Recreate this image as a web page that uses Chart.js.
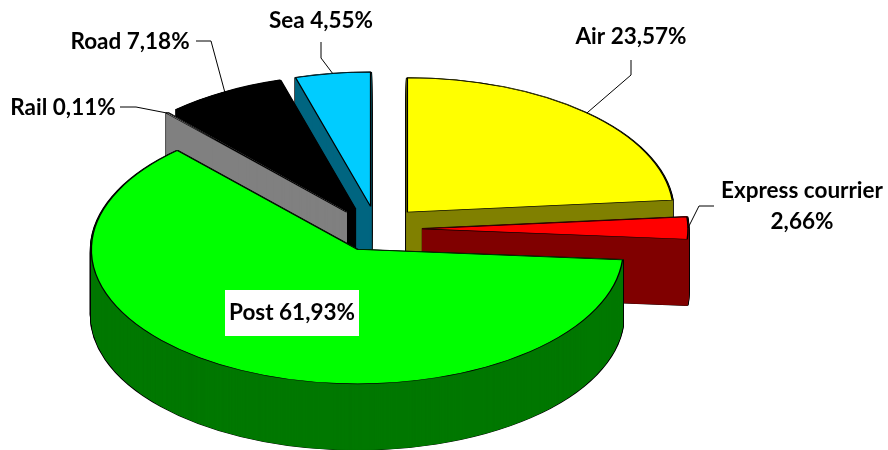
<!DOCTYPE html>
<html>
<head>
<meta charset="utf-8">
<title>Transport modes</title>
<script src="https://cdn.jsdelivr.net/npm/chart.js@4/dist/chart.umd.min.js"></script>
<style>
  html, body { margin: 0; padding: 0; background: #fff; }
  canvas { display: block; }
</style>
</head>
<body>
<canvas id="grafico" width="888" height="450"></canvas>
<script>
// data
const modes = ['Air', 'Express courrier', 'Post', 'Rail', 'Road', 'Sea'];
const shares = [23.57, 2.66, 61.93, 0.11, 7.18, 4.55];

// styles
const topColors = ['#ffff00', '#ff0000', '#00ff00', '#ffffff', '#000000', '#00ccff'];
const sideColors = ['#808000', '#800000', '#007800', '#808080', '#000000', '#006680'];
const paintOrder = [0, 1, 5, 4, 3, 2]; // back slices first, post in front

// the pie is flattened to look like the 3d excel one
const pieX = 377, pieY = 229;
const squash = 0.505;
const pieRadius = 266;
const explode = 45;
const wallDepth = 66;

// where the text goes, x/y is the middle of the label, leader is the line up to the bend
const labelSpots = [
  { lines: ['Air 23,57%'], x: 631, y: 37, leader: [[631, 60], [631, 75]] },
  { lines: ['Express courrier', '2,66%'], x: 802, y: 191, lineGap: 31, leader: [[714, 206], [699, 206]] },
  { lines: ['Post 61,93%'], x: 292, y: 313, box: [225, 290, 134, 46] },
  { lines: ['Rail 0,11%'], x: 63, y: 108, leader: [[120, 107], [136, 107]] },
  { lines: ['Road 7,18%'], x: 130, y: 42, leader: [[196, 41], [211, 41]] },
  { lines: ['Sea 4,55%'], x: 321, y: 21, leader: [[321, 42], [321, 58]] }
];

function paintArc(ctx, arc, depth, opts) {
  const saved = arc.options;
  const mid = (arc.startAngle + arc.endAngle) / 2;
  arc.options = Object.assign({}, saved, opts);
  ctx.save();
  ctx.translate(pieX - arc.x, pieY + depth);
  ctx.scale(1, squash);
  ctx.translate(0, -arc.y);
  // option offset also grows the radius of small slices, so explode by hand
  ctx.translate(Math.cos(mid) * explode, Math.sin(mid) * explode);
  arc.draw(ctx);
  ctx.restore();
  arc.options = saved;
}

function edgePoint(arc) {
  const mid = (arc.startAngle + arc.endAngle) / 2;
  const r = arc.outerRadius + explode;
  return [pieX + Math.cos(mid) * r, pieY + Math.sin(mid) * r * squash];
}

const pie3d = {
  id: 'pie3d',
  beforeDatasetDraw(chart, args) {
    const ctx = chart.ctx;
    const arcs = args.meta.data;
    paintOrder.forEach(i => {
      const arc = arcs[i];
      // outline first, the fill on top only leaves the outer edge of it
      for (let d = wallDepth; d >= 0; d--) {
        paintArc(ctx, arc, d, { backgroundColor: '#000', borderColor: '#000', borderWidth: 3 });
      }
      // small steps and a border in the wall colour, else thin slices let the black through
      for (let d = wallDepth; d >= 0; d -= 0.25) {
        paintArc(ctx, arc, d, { backgroundColor: sideColors[i], borderColor: sideColors[i], borderWidth: 1 });
      }
      paintArc(ctx, arc, 0, { backgroundColor: topColors[i], borderColor: '#000', borderWidth: 1.4 });
    });
    return false;
  },
  afterDatasetsDraw(chart) {
    const ctx = chart.ctx;
    const arcs = chart.getDatasetMeta(0).data;
    ctx.save();
    labelSpots.forEach((spot, i) => {
      if (spot.leader) {
        const end = edgePoint(arcs[i]);
        ctx.beginPath();
        ctx.strokeStyle = '#000';
        ctx.lineWidth = 1;
        ctx.moveTo(spot.leader[0][0], spot.leader[0][1]);
        ctx.lineTo(spot.leader[1][0], spot.leader[1][1]);
        ctx.lineTo(end[0], end[1]);
        ctx.stroke();
      }
      if (spot.box) {
        ctx.fillStyle = '#fff';
        ctx.fillRect(spot.box[0], spot.box[1], spot.box[2], spot.box[3]);
      }
      ctx.fillStyle = '#000';
      ctx.font = 'bold 22.5px Lato';
      ctx.textAlign = 'center';
      ctx.textBaseline = 'middle';
      spot.lines.forEach((line, n) => {
        ctx.fillText(line, spot.x, spot.y + n * (spot.lineGap || 0));
      });
    });
    ctx.restore();
  }
};

new Chart(document.getElementById('grafico').getContext('2d'), {
  type: 'pie',
  data: {
    labels: modes,
    datasets: [{
      data: shares,
      backgroundColor: topColors,
      borderColor: '#000',
      borderWidth: 1
    }]
  },
  options: {
    responsive: false,
    animation: false,
    radius: pieRadius,
    layout: { padding: 0 },
    plugins: {
      legend: { display: false },
      tooltip: { enabled: false }
    }
  },
  plugins: [pie3d]
});
</script>
</body>
</html>
